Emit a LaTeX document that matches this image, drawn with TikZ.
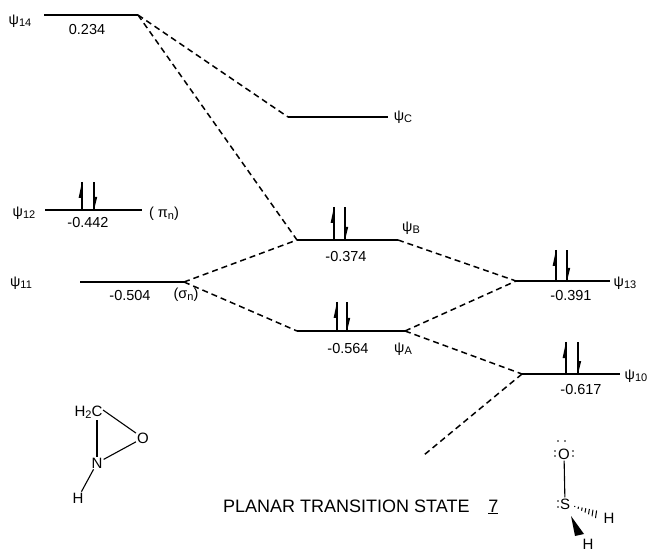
\documentclass[tikz,border=0pt]{standalone}
\usepackage{fontspec}
\setmainfont{Liberation Sans}
\newcommand{\elecpair}[4]{% up x, down x, top y, level y
  \draw[spin] (#1,#4) -- (#1,#3);
  \fill (#1,#3) -- (#1,#3+16) -- (#1-3.4,#3+16) -- cycle;
  \draw[spin] (#2,#4) -- (#2,#3);
  \fill (#2,#4) -- (#2,#4-13) -- (#2+3.2,#4-13) -- cycle;
}
\newcommand{\psilab}[1]{ψ\raisebox{-0.25ex}{\fontsize{11}{12}\selectfont #1}}
\tikzset{
  level/.style={line width=1.6pt},
  spin/.style={line width=1.2pt},
  link/.style={line width=1.5pt,dash pattern=on 6pt off 4pt},
  lab/.style={inner sep=0pt,font=\fontsize{14.5}{16}\selectfont},
  atom/.style={inner sep=1pt,font=\fontsize{15}{15}\selectfont},
  bond/.style={line width=1.1pt},
}
\begin{document}
\begin{tikzpicture}[x=1pt,y=-1pt]
\useasboundingbox (0,0) rectangle (648,553);
% levels
\coordinate (l14) at (44,15);   \coordinate (r14) at (138,15);
\coordinate (lC) at (288,117);  \coordinate (rC) at (388,117);
\coordinate (l12) at (45,210);  \coordinate (r12) at (142,210);
\coordinate (l11) at (80,282);  \coordinate (r11) at (184,282);
\coordinate (lB) at (297,240);  \coordinate (rB) at (398,240);
\coordinate (lA) at (297,331);  \coordinate (rA) at (405,331);
\coordinate (l13) at (516,281); \coordinate (r13) at (610,281);
\coordinate (l10) at (522,374); \coordinate (r10) at (620,374);
\coordinate (free) at (424,455);
\foreach \n in {14,C,12,11,B,A,13,10} \draw[level] (l\n) -- (r\n);
% correlation lines
\draw[link] (r14) -- (lC);
\draw[link] (r14) -- (lB);
\draw[link] (r11) -- (lB);
\draw[link] (r11) -- (lA);
\draw[link] (rB) -- (l13);
\draw[link] (rA) -- (l13);
\draw[link] (rA) -- (l10);
\draw[link] (l10) -- (free);
% electrons
\elecpair{82}{94}{182}{210}
\elecpair{334}{345}{207}{240}
\elecpair{337}{347}{302}{331}
\elecpair{556}{567}{250}{281}
\elecpair{566}{578}{342}{374}
% labels
\node[lab] (t14) at (20,21) {\psilab{14}};
\node[lab] (e14) at (87,30) {0.234};
\node[lab] (tC) at (403,117.5) {\psilab{C}};
\node[lab] (t12) at (24,213) {\psilab{12}};
\node[lab] (e12) at (88,223) {-0.442};
\node[lab] (p12) at (164,214) {( π\raisebox{-0.25ex}{\fontsize{11}{12}\selectfont n})};
\node[lab] (t11) at (21,283) {\psilab{11}};
\node[lab] (e11) at (130,296) {-0.504};
\node[lab] (s11) at (186,295) {(σ\raisebox{-0.25ex}{\fontsize{11}{12}\selectfont n})};
\node[lab] (tB) at (411,228) {\psilab{B}};
\node[lab] (eB) at (346,257) {-0.374};
\node[lab] (eA) at (348,349) {-0.564};
\node[lab] (tA) at (403,349) {\psilab{A}};
\node[lab] (e13) at (571,296) {-0.391};
\node[lab] (t13) at (625,283) {\psilab{13}};
\node[lab] (e10) at (581,390) {-0.617};
\node[lab] (t10) at (636,376) {\psilab{10}};
% left molecule
\node[atom] (c) at (88.5,412) {H\raisebox{-0.3ex}{\fontsize{11}{12}\selectfont 2}C};
\node[atom] (o1) at (143,438) {O};
\node[atom] (n) at (97,463) {N};
\node[atom] (h1) at (78,498) {H};
\coordinate (cr) at (103,410);
\coordinate (cb) at (97,420);
\draw[bond] (cb) -- (n);
\draw[bond] (cr) -- (o1);
\draw[bond] (n) -- (o1);
\draw[bond] (n) -- (h1);
% right molecule
\node[atom] (o2) at (564,454) {O};
\node[atom] (s) at (565,504) {S};
\node[atom] (h2) at (609,518) {H};
\node[atom,inner sep=0pt] (h3) at (588,544) {H};
\draw[bond] (o2) -- (s);
\fill (571,516) -- (575,536) -- (584,534) -- cycle;
\foreach \k in {0,...,6}
  \draw[line width=1pt] ({575+3.6*\k},{506.5+1.3*\k-0.5-0.55*\k}) -- ({575+3.6*\k-0.5-0.1*\k},{506.5+1.3*\k+0.5+0.55*\k});
\foreach \p in {(558,441),(565,441),(555,451),(555,456),(573,451),(573,456),(558,501),(558,507)}
  \fill \p circle (0.8);
% title
\node[inner sep=0pt,anchor=west,font=\fontsize{18}{20}\selectfont] (title) at (223,507) {PLANAR TRANSITION STATE\hspace{1.05em}\underline{7}};
\end{tikzpicture}
\end{document}
